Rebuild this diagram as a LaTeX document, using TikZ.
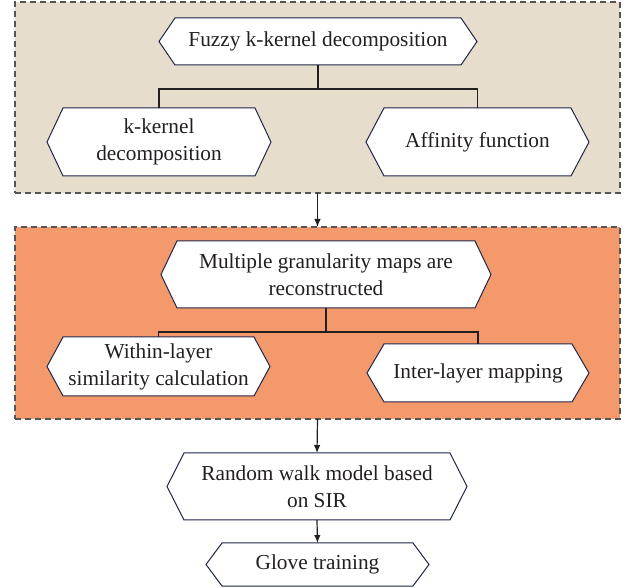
\documentclass[tikz,border=0pt]{standalone}
\usepackage{fontspec}
\setmainfont{Liberation Serif}
\usetikzlibrary{arrows.meta,calc}
\definecolor{beigefill}{HTML}{E6DDCD}
\definecolor{orangefill}{HTML}{F4996B}
\definecolor{hexborder}{HTML}{1F2648}
\definecolor{dashgray}{HTML}{555555}
\definecolor{txtcol}{HTML}{231F20}
\tikzset{
  groupbox/.style={draw=dashgray, line width=1.2pt, dash pattern=on 6pt off 4pt, minimum width=605pt, outer sep=0pt, inner sep=0pt},
  hexline/.style={draw=hexborder, fill=white, line width=1pt, line join=miter},
  hexlabel/.style={draw=none, inner sep=0pt, outer sep=0pt, align=center, text=txtcol,
    font=\fontsize{21.3}{27}\selectfont},
  conn/.style={draw=txtcol, line width=1.2pt},
  arr/.style={conn, -{Latex[length=8pt,width=6.5pt]}}
}
% name, cx, cy, total width, height, tip depth, text
\newcommand\hexbox[7]{%
  \draw[hexline] ({#2-#4/2+#6},{#3-#5/2}) -- ({#2+#4/2-#6},{#3-#5/2}) -- ({#2+#4/2},#3)
     -- ({#2+#4/2-#6},{#3+#5/2}) -- ({#2-#4/2+#6},{#3+#5/2}) -- ({#2-#4/2},#3) -- cycle;
  \node[hexlabel, minimum width=#4pt, minimum height=#5pt] (#1) at (#2,#3) {#7};%
}
\begin{document}
\begin{tikzpicture}[x=1pt,y=-1pt]
\useasboundingbox (0,0) rectangle (633,588);
% group boxes
\node[groupbox, fill=beigefill, minimum height=191pt] (box1) at (317.5,97.5) {};
\node[groupbox, fill=orangefill, minimum height=192pt] (box2) at (317.5,323) {};
% first group
\hexbox{fuzzy}{318}{41.5}{318}{47}{16}{Fuzzy k-kernel decomposition}
\hexbox{kkernel}{159}{142}{224}{68}{16}{k-kernel\\decomposition}
\hexbox{affinity}{477.5}{142}{223}{68}{18}{Affinity function}
\coordinate (j1) at (318,89);
\draw[conn] (fuzzy.south) -- (fuzzy.south |- j1);
\draw[conn] (kkernel.north) |- (j1) -| (affinity.north);
% second group
\hexbox{multi}{326}{274.5}{330}{67}{16}{Multiple granularity maps are\\reconstructed}
\hexbox{within}{158.5}{366.5}{223}{59}{16}{Within-layer\\similarity calculation}
\hexbox{inter}{478}{373}{222}{58}{17}{Inter-layer mapping}
\coordinate (j2) at (326,332);
\draw[conn] (multi.south) -- (multi.south |- j2);
\draw[conn] (within.north) |- (j2) -| (inter.north);
% bottom chain
\hexbox{walk}{317}{486.5}{300}{67}{17}{Random walk model based\\on SIR}
\hexbox{glove}{317.5}{564.5}{223}{43}{16}{Glove training}
\draw[arr] (box1.south) -- (box2.north);
\draw[arr] (box2.south) -- (walk.north);
\draw[arr] (walk.south) -- (glove.north);
\end{tikzpicture}
\end{document}
